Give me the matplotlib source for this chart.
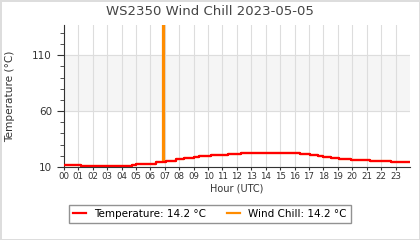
import numpy as np
import matplotlib
matplotlib.use("Agg")
import matplotlib.pyplot as plt
from matplotlib.ticker import MultipleLocator

### data

# temperature steps (hour of change, value in deg C)
temp_hours = [0.0, 1.2, 4.7, 5.0, 6.4, 7.1, 7.8, 8.3, 9.0, 9.4, 10.2, 11.4,
              12.3, 16.4, 17.1, 17.6, 18.0, 18.5, 19.1, 19.9, 21.2, 22.7, 24.0]
temp_values = [11.6, 10.6, 11.6, 12.9, 14.1, 15.6, 16.8, 17.7, 18.6, 19.5, 20.4, 21.3,
               22.2, 21.3, 20.4, 19.5, 18.6, 17.7, 16.8, 15.9, 15.0, 14.2, 14.2]

# wind chill follows temperature except one bad reading near 06:50
spike_hour = 6.85
spike_end = 6.92
spike_value = 150.0

hour_labels = ["%02d" % h for h in range(24)]
temp_now = 14.2
chill_now = 14.2

### figure

fig = plt.figure(figsize=(4.2, 2.4), dpi=100, facecolor='w', edgecolor='#dddddd', linewidth=1)
ax = fig.add_axes([0.152, 0.304, 0.824, 0.592])

# build wind chill series from temperature plus the spike
chill_hours = list(temp_hours)
chill_values = list(temp_values)
i = np.searchsorted(chill_hours, spike_hour)
base = chill_values[i - 1]
chill_hours[i:i] = [spike_hour, spike_end]
chill_values[i:i] = [spike_value, base]

# band and grid
ax.axhspan(60, 110, color='#f5f5f5', zorder=0)
ax.set_xlim(0, 24)
ax.set_ylim(10, 137)
ax.set_xticks(range(24))
ax.set_xticklabels(hour_labels)
ax.set_yticks([10, 60, 110])
ax.yaxis.set_minor_locator(MultipleLocator(10))
ax.grid(True, which='major', color='#dddddd', linewidth=0.8, zorder=1)
ax.set_axisbelow(True)

ax.step(chill_hours, chill_values, where='post', color='#ff8c00', linewidth=1.6,
        label='Wind Chill: {} °C'.format(chill_now), zorder=2)
ax.step(temp_hours, temp_values, where='post', color='#ff0000', linewidth=1.6,
        label='Temperature: {} °C'.format(temp_now), zorder=3)

for s in ['top', 'right']:
    ax.spines[s].set_visible(False)
for s in ['left', 'bottom']:
    ax.spines[s].set_color('#333333')

ax.tick_params(axis='y', which='major', labelsize=7.5, length=5, colors='#333333')
ax.tick_params(axis='y', which='minor', length=3, color='#333333')
ax.tick_params(axis='x', labelsize=6.2, length=2, pad=1.5, colors='#333333')

# Text (title centred on the whole figure)
fig.text(0.5, 0.952, 'WS2350 Wind Chill 2023-05-05', fontsize=9.5, color='#444444',
         ha='center', va='center')
ax.set_xlabel('Hour (UTC)', fontsize=7, color='#333333', labelpad=2)
ax.set_ylabel('Temperature (°C)', fontsize=7.6, color='#333333')
ax.yaxis.set_label_coords(-0.14, 0.5)

h, l = ax.get_legend_handles_labels()
fig.legend(h[::-1], l[::-1], loc='center', bbox_to_anchor=(0.5, 0.108), ncol=2,
           fontsize=7.5, frameon=True, fancybox=False, edgecolor='#777777',
           handlelength=1.2, columnspacing=2.0, borderpad=0.4)

fig.savefig('out.png', dpi=100, facecolor=fig.get_facecolor(), edgecolor=fig.get_edgecolor())
